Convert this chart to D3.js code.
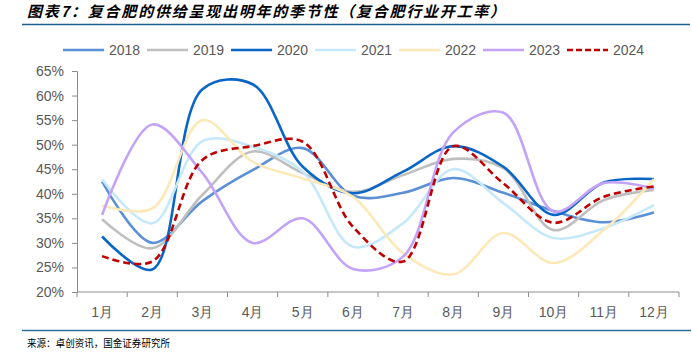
<!DOCTYPE html>
<html>
<head>
<meta charset="utf-8">
<script src="https://cdn.jsdelivr.net/npm/d3@7"></script>
<style>
  body { margin: 0; background: #fff; }
  svg { display: block; }
  .axis-text { font-family: "Liberation Sans", Arial, sans-serif; font-size: 14px; fill: #595959; }
</style>
</head>
<body>
<svg id="chart" width="692" height="352"></svg>
<script>
// Month categories and tick labels.
const months = ["1月", "2月", "3月", "4月", "5月", "6月", "7月", "8月", "9月", "10月", "11月", "12月"];
const yTicks = [20, 25, 30, 35, 40, 45, 50, 55, 60, 65];

// Operating rate (%) by year.
const years = ["2018", "2019", "2020", "2021", "2022", "2023", "2024"];
const s2018 = [42.5, 30.0, 38.5, 44.8, 49.3, 39.6, 40.2, 43.2, 40.2, 36.5, 34.2, 36.2];
const s2019 = [34.8, 28.9, 39.8, 48.6, 44.2, 40.4, 43.8, 47.1, 45.2, 32.6, 38.7, 40.8];
const s2020 = [31.3, 24.6, 61.3, 62.3, 45.5, 40.1, 44.5, 49.7, 45.5, 35.7, 42.3, 43.0];
const s2021 = [42.9, 34.0, 50.7, 49.6, 44.5, 29.2, 34.0, 45.0, 38.1, 31.0, 33.0, 37.7];
const s2022 = [37.6, 37.0, 55.0, 46.5, 43.1, 39.4, 27.9, 23.6, 32.0, 25.9, 32.6, 43.0];
const s2023 = [35.7, 54.1, 44.2, 30.0, 35.0, 24.7, 27.2, 52.5, 56.5, 36.4, 42.2, 41.1];
const s2024 = [27.3, 26.2, 46.9, 49.7, 50.6, 33.3, 26.2, 49.7, 42.1, 34.1, 39.4, 41.5];
const seriesValues = [s2018, s2019, s2020, s2021, s2022, s2023, s2024];
const colors = ["#5b8fd6", "#bfbfbf", "#0a66c6", "#c6e8fb", "#fde9b8", "#c3a3f8", "#c00000"];

const svg = d3.select("#chart");

// Title and top rule.
svg.append("text")
    .attr("x", 27)
    .attr("y", 17)
    .attr("textLength", 478)
    .attr("lengthAdjust", "spacing")
    .style("font-family", "'Noto Sans CJK SC', sans-serif")
    .style("font-size", "15px")
    .style("font-weight", "bold")
    .style("font-style", "italic")
    .style("fill", "#000")
    .text("图表7：复合肥的供给呈现出明年的季节性（复合肥行业开工率）");

svg.append("line")
    .attr("x1", 22).attr("x2", 690)
    .attr("y1", 24.5).attr("y2", 24.5)
    .attr("stroke", "#1f5f8b")
    .attr("stroke-width", 1.5);

// Scales.
let x = d3.scaleBand()
    .domain(months)
    .range([77, 679])
    .padding(0);

let y = d3.scaleLinear()
    .domain([20, 65])
    .range([292, 71]);

// Y axis.
let yAxis = svg.append("g")
    .attr("transform", "translate(77,0)")
    .call(d3.axisLeft(y).tickValues(yTicks).tickSize(5).tickPadding(8).tickFormat(d => d + "%"));
yAxis.selectAll("text").attr("class", "axis-text").attr("font-size", null).attr("font-family", null);
yAxis.selectAll("line, path").attr("stroke", "#8c8c8c");

// X axis: ticks at band edges, labels at band centres.
let xAxis = svg.append("g")
    .attr("transform", "translate(0,292)");
xAxis.append("line")
    .attr("x1", 77).attr("x2", 679)
    .attr("stroke", "#8c8c8c");
let edges = months.map(m => x(m)).concat([x.range()[1]]);
xAxis.selectAll(".tick-mark")
    .data(edges)
    .enter().append("line")
    .attr("class", "tick-mark")
    .attr("x1", d => d).attr("x2", d => d)
    .attr("y1", 0).attr("y2", 5)
    .attr("stroke", "#8c8c8c");
xAxis.selectAll(".axis-text")
    .data(months)
    .enter().append("text")
    .attr("class", "axis-text")
    .attr("x", d => x(d) + x.bandwidth() / 2)
    .attr("y", 25)
    .attr("text-anchor", "middle")
    .text(d => d);

// Lines, smoothed like the spreadsheet original.
let line = d3.line()
    .x((d, i) => x(months[i]) + x.bandwidth() / 2)
    .y(d => y(d))
    .curve(d3.curveCatmullRom.alpha(0.5));

for (let i = 0; i < years.length; i++) {
    svg.append("path")
        .datum(seriesValues[i])
        .attr("fill", "none")
        .attr("stroke", colors[i])
        .attr("stroke-width", 2.6)
        .attr("stroke-dasharray", years[i] === "2024" ? "7,4" : null)
        .attr("d", line);
}

// Legend.
let legend = svg.append("g").attr("transform", "translate(63,50)");
let item = legend.selectAll(".legend-item")
    .data(years)
    .enter().append("g")
    .attr("class", "legend-item")
    .attr("transform", (d, i) => "translate(" + (i * 84) + ",0)");
item.append("line")
    .attr("x1", 0).attr("x2", 41)
    .attr("stroke", (d, i) => colors[i])
    .attr("stroke-width", 2.6)
    .attr("stroke-dasharray", d => d === "2024" ? "6,3" : null);
item.append("text")
    .attr("class", "axis-text")
    .attr("x", 46)
    .attr("y", 5)
    .text(d => d);

// Footer rule and source.
svg.append("line")
    .attr("x1", 22).attr("x2", 691)
    .attr("y1", 330.5).attr("y2", 330.5)
    .attr("stroke", "#2e6f97")
    .attr("stroke-width", 1.5);

svg.append("text")
    .attr("x", 27)
    .attr("y", 347)
    .attr("textLength", 143)
    .attr("lengthAdjust", "spacingAndGlyphs")
    .style("font-family", "'Noto Sans CJK SC', sans-serif")
    .style("font-size", "10px")
    .style("fill", "#000")
    .text("来源：卓创资讯，国金证券研究所");
</script>
</body>
</html>
